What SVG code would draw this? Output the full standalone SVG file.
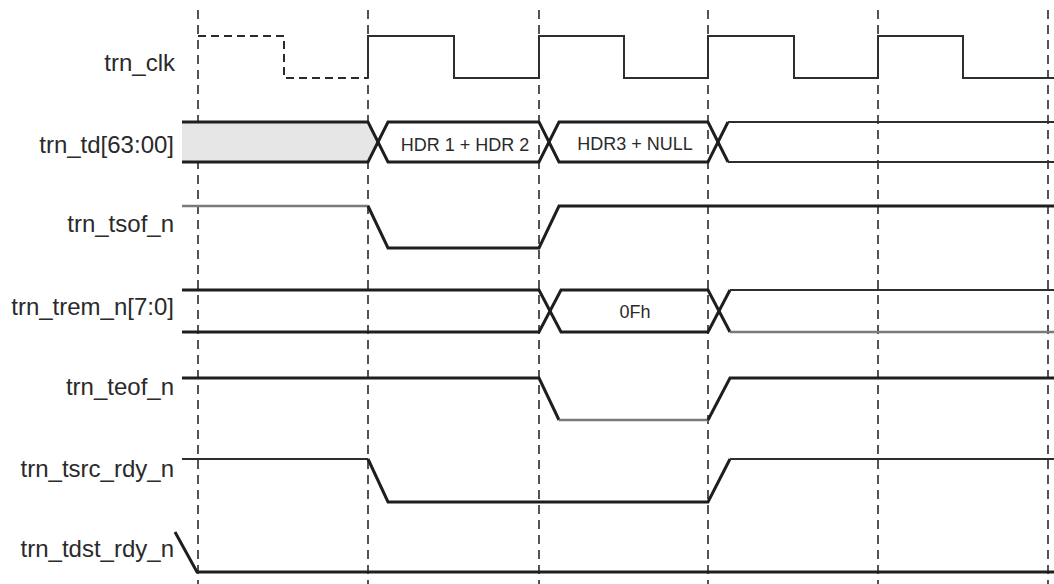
<svg xmlns="http://www.w3.org/2000/svg" width="1054" height="584" viewBox="0 0 1054 584">
  <style>
    .label { font-family: "Liberation Sans", Arial, sans-serif; font-size: 24px; fill: #2a2a2a; text-anchor: end; }
    .bus-text { font-family: "Liberation Sans", Arial, sans-serif; font-size: 18px; fill: #2a2a2a; text-anchor: middle; }
    .grid { stroke: #2a2a2a; stroke-width: 1.6; stroke-dasharray: 9 6; fill: none; }
    .dash { stroke: #2a2a2a; stroke-width: 2; stroke-dasharray: 8 5; fill: none; }
    .thick { stroke: #1e1e1e; stroke-width: 3; fill: none; stroke-linejoin: miter; }
    .thin { stroke: #2e2e2e; stroke-width: 2; fill: none; }
    .gray { stroke: #7a7a7a; stroke-width: 2.5; fill: none; }
  </style>

  <rect width="1054" height="584" fill="#ffffff"/>

  <!-- clock-edge reference lines -->
  <g id="grid">
    <line class="grid" x1="198" y1="10" x2="198" y2="584"/>
    <line class="grid" x1="368" y1="10" x2="368" y2="584"/>
    <line class="grid" x1="539" y1="10" x2="539" y2="584"/>
    <line class="grid" x1="708" y1="10" x2="708" y2="584"/>
    <line class="grid" x1="878" y1="10" x2="878" y2="584"/>
    <line class="grid" x1="1048" y1="10" x2="1048" y2="584"/>
  </g>

  <g id="trn_clk">
    <text class="label" x="175" y="71">trn_clk</text>
    <path class="dash" d="M198,36 H284 V78 H368"/>
    <path class="thin" d="M368,78 V36 H454 V78 H539 V36 H624 V78 H708 V36 H794 V78 H878 V36 H963 V78 H1054"/>
  </g>

  <g id="trn_td">
    <text class="label" x="174" y="153">trn_td[63:00]</text>
    <polygon points="182,122 368,122 378,142 368,162 182,162" fill="#e6e6e6"/>
    <path class="thick" d="M182,122 H368 L388,162 H539 L559,122 H708 L728,162"/>
    <path class="thick" d="M182,162 H368 L388,122 H539 L559,162 H708 L728,122"/>
    <path class="thin" d="M728,122 H1054 M728,162 H1054"/>
    <text class="bus-text" x="465" y="151">HDR 1 + HDR 2</text>
    <text class="bus-text" x="635" y="150">HDR3 + NULL</text>
  </g>

  <g id="trn_tsof_n">
    <text class="label" x="174" y="232">trn_tsof_n</text>
    <path class="gray" d="M182,206 H368"/>
    <path class="thick" d="M368,206 L388,248 H539 L559,206 H1054"/>
  </g>

  <g id="trn_trem_n">
    <text class="label" x="174" y="315">trn_trem_n[7:0]</text>
    <path class="thick" d="M182,290 H539 L561,332 H708 L730,290"/>
    <path class="thick" d="M182,332 H539 L561,290 H708 L730,332"/>
    <path class="thin" d="M730,290 H1054"/>
    <path class="gray" d="M730,332 H1054"/>
    <text class="bus-text" x="635" y="318">0Fh</text>
  </g>

  <g id="trn_teof_n">
    <text class="label" x="174" y="395">trn_teof_n</text>
    <path class="thick" d="M182,378 H539 L559,420"/>
    <path class="gray" d="M559,420 H708"/>
    <path class="thick" d="M708,420 L730,378 H1054"/>
  </g>

  <g id="trn_tsrc_rdy_n">
    <text class="label" x="174" y="477">trn_tsrc_rdy_n</text>
    <path class="thin" d="M182,459 H368"/>
    <path class="thick" d="M368,459 L388,502 H708 L730,459"/>
    <path class="thin" d="M730,459 H1054"/>
  </g>

  <g id="trn_tdst_rdy_n">
    <text class="label" x="174" y="557">trn_tdst_rdy_n</text>
    <path class="thick" d="M175,532 L197,572 H1054"/>
  </g>
</svg>
